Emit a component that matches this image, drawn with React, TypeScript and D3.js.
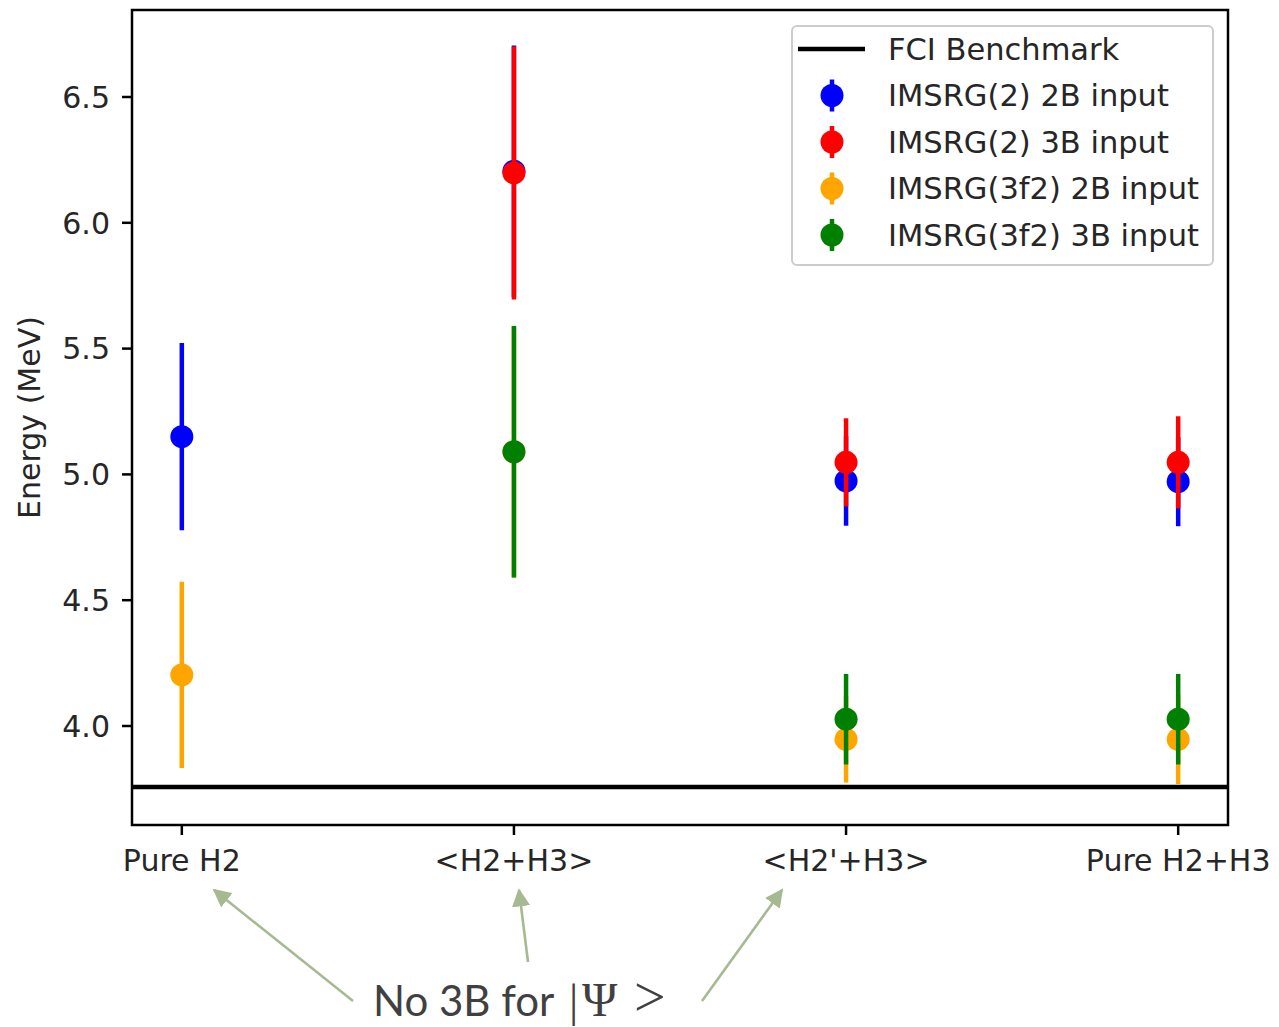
import React from "react";
import * as d3 from "d3";

const categories = ["Pure H2", "<H2+H3>", "<H2'+H3>", "Pure H2+H3"];
const yTicks = [4.0, 4.5, 5.0, 5.5, 6.0, 6.5];
const fciValue = 3.7575;

const imsrg2_2B = [5.15, 6.205, 4.974, 4.971];
const imsrg2_2B_err = [0.372, 0.5, 0.178, 0.177];
const imsrg2_3B = [null, 6.198, 5.048, 5.048];
const imsrg2_3B_err = [null, 0.503, 0.175, 0.183];
const imsrg3f2_2B = [4.203, 5.09, 3.947, 3.947];
const imsrg3f2_2B_err = [0.37, 0.5, 0.172, 0.178];
const imsrg3f2_3B = [null, 5.09, 4.027, 4.027];
const imsrg3f2_3B_err = [null, 0.5, 0.18, 0.18];

const seriesNames = [
  "IMSRG(2) 2B input",
  "IMSRG(2) 3B input",
  "IMSRG(3f2) 2B input",
  "IMSRG(3f2) 3B input",
];
const seriesColors = ["#0000ff", "#ff0000", "#ffa500", "#008000"];
const seriesValues = [imsrg2_2B, imsrg2_3B, imsrg3f2_2B, imsrg3f2_3B];
const seriesErrors = [imsrg2_2B_err, imsrg2_3B_err, imsrg3f2_2B_err, imsrg3f2_3B_err];

const W = 1279;
const H = 1027;
const left = 132;
const right = 1228;
const top = 10;
const bottom = 825;
const FONT = "DejaVu Sans";
const FS = 30;
const LFS = 30.5;

export default function App() {
  const x = d3.scaleLinear().domain([-0.15, 3.15]).range([left, right]);
  const y = d3.scaleLinear().domain([3.6065, 6.8458]).range([bottom, top]);
  const markerR = 11.5;
  const errW = 4.5;

  const legendX = 792;
  const legendY = 26;
  const legendW = 421;
  const legendH = 239;
  const rowY = (i: number) => legendY + 23 + i * 46.5;

  const arrowColor = "#a6ba92";
  const arrows = [
    { x1: 353, y1: 1001, x2: 214, y2: 890 },
    { x1: 528, y1: 962, x2: 519, y2: 890 },
    { x1: 702, y1: 1001, x2: 782, y2: 890 },
  ];

  return (
    <svg
      width={W}
      height={H}
      style={{ position: "absolute", left: 0, top: 0, background: "#fff" }}
      fontFamily={FONT}
    >
      <defs>
        <marker id="ah" viewBox="0 0 10 10" refX="9" refY="5" markerWidth="7" markerHeight="7" orient="auto" markerUnits="strokeWidth">
          <path d="M0,0 L10,5 L0,10 z" fill={arrowColor} />
        </marker>
        <clipPath id="plot">
          <rect x={left} y={top} width={right - left} height={bottom - top} />
        </clipPath>
      </defs>
      <rect x={0} y={0} width={W} height={H} fill="#fff" />

      {/* FCI line */}
      <line x1={left} x2={right} y1={y(fciValue)} y2={y(fciValue)} stroke="#000" strokeWidth={4.5} />

      {/* error bars and points */}
      <g clipPath="url(#plot)">
        {seriesValues.map((vals, si) => (
          <g key={si}>
            {vals.map((v, i) =>
              v == null ? null : (
                <g key={i}>
                  <line
                    x1={x(i)}
                    x2={x(i)}
                    y1={y(v - (seriesErrors[si][i] as number))}
                    y2={y(v + (seriesErrors[si][i] as number))}
                    stroke={seriesColors[si]}
                    strokeWidth={errW}
                  />
                  <circle cx={x(i)} cy={y(v)} r={markerR} fill={seriesColors[si]} />
                </g>
              )
            )}
          </g>
        ))}
      </g>

      {/* spines */}
      <rect x={left} y={top} width={right - left} height={bottom - top} fill="none" stroke="#000" strokeWidth={2.5} />

      {/* y ticks */}
      {yTicks.map((t) => (
        <g key={t}>
          <line x1={left - 10} x2={left} y1={y(t)} y2={y(t)} stroke="#000" strokeWidth={2.5} />
          <text x={left - 22} y={y(t)} dy="0.36em" textAnchor="end" fontSize={FS} fill="#262626">
            {t.toFixed(1)}
          </text>
        </g>
      ))}

      {/* x ticks */}
      {categories.map((c, i) => (
        <g key={c}>
          <line x1={x(i)} x2={x(i)} y1={bottom} y2={bottom + 10} stroke="#000" strokeWidth={2.5} />
          <text x={x(i)} y={bottom + 46} textAnchor="middle" fontSize={FS} fill="#262626">
            {c}
          </text>
        </g>
      ))}

      {/* y label */}
      <text
        transform={`translate(40,${(top + bottom) / 2}) rotate(-90)`}
        textAnchor="middle"
        fontSize={FS}
        fill="#262626"
      >
        Energy (MeV)
      </text>

      {/* legend */}
      <rect x={legendX} y={legendY} width={legendW} height={legendH} rx={5} fill="#fff" fillOpacity={0.8} stroke="#cccccc" strokeWidth={2} />
      <line x1={798} x2={865} y1={rowY(0)} y2={rowY(0)} stroke="#000" strokeWidth={4.5} />
      <text x={888} y={rowY(0)} dy="0.36em" fontSize={LFS} fill="#262626">
        FCI Benchmark
      </text>
      {seriesNames.map((n, i) => (
        <g key={n}>
          <line x1={832} x2={832} y1={rowY(i + 1) - 16} y2={rowY(i + 1) + 16} stroke={seriesColors[i]} strokeWidth={errW} />
          <circle cx={832} cy={rowY(i + 1)} r={markerR} fill={seriesColors[i]} />
          <text x={888} y={rowY(i + 1)} dy="0.36em" fontSize={LFS} fill="#262626">
            {n}
          </text>
        </g>
      ))}

      {/* annotation */}
      {arrows.map((a, i) => (
        <line key={i} x1={a.x1} y1={a.y1} x2={a.x2} y2={a.y2} stroke={arrowColor} strokeWidth={2.6} markerEnd="url(#ah)" />
      ))}
      <text y={1016} fontSize={42} fill="#404040" fontFamily="Lato">
        <tspan x={373}>No 3B for </tspan>
        <tspan x={569} fontFamily="Liberation Serif" fontSize={46}>|</tspan>
        <tspan x={582} fontFamily="Liberation Serif" fontSize={48}>Ψ</tspan>
        <tspan x={634} fontFamily="Liberation Serif" fontSize={56}>&gt;</tspan>
      </text>
    </svg>
  );
}
